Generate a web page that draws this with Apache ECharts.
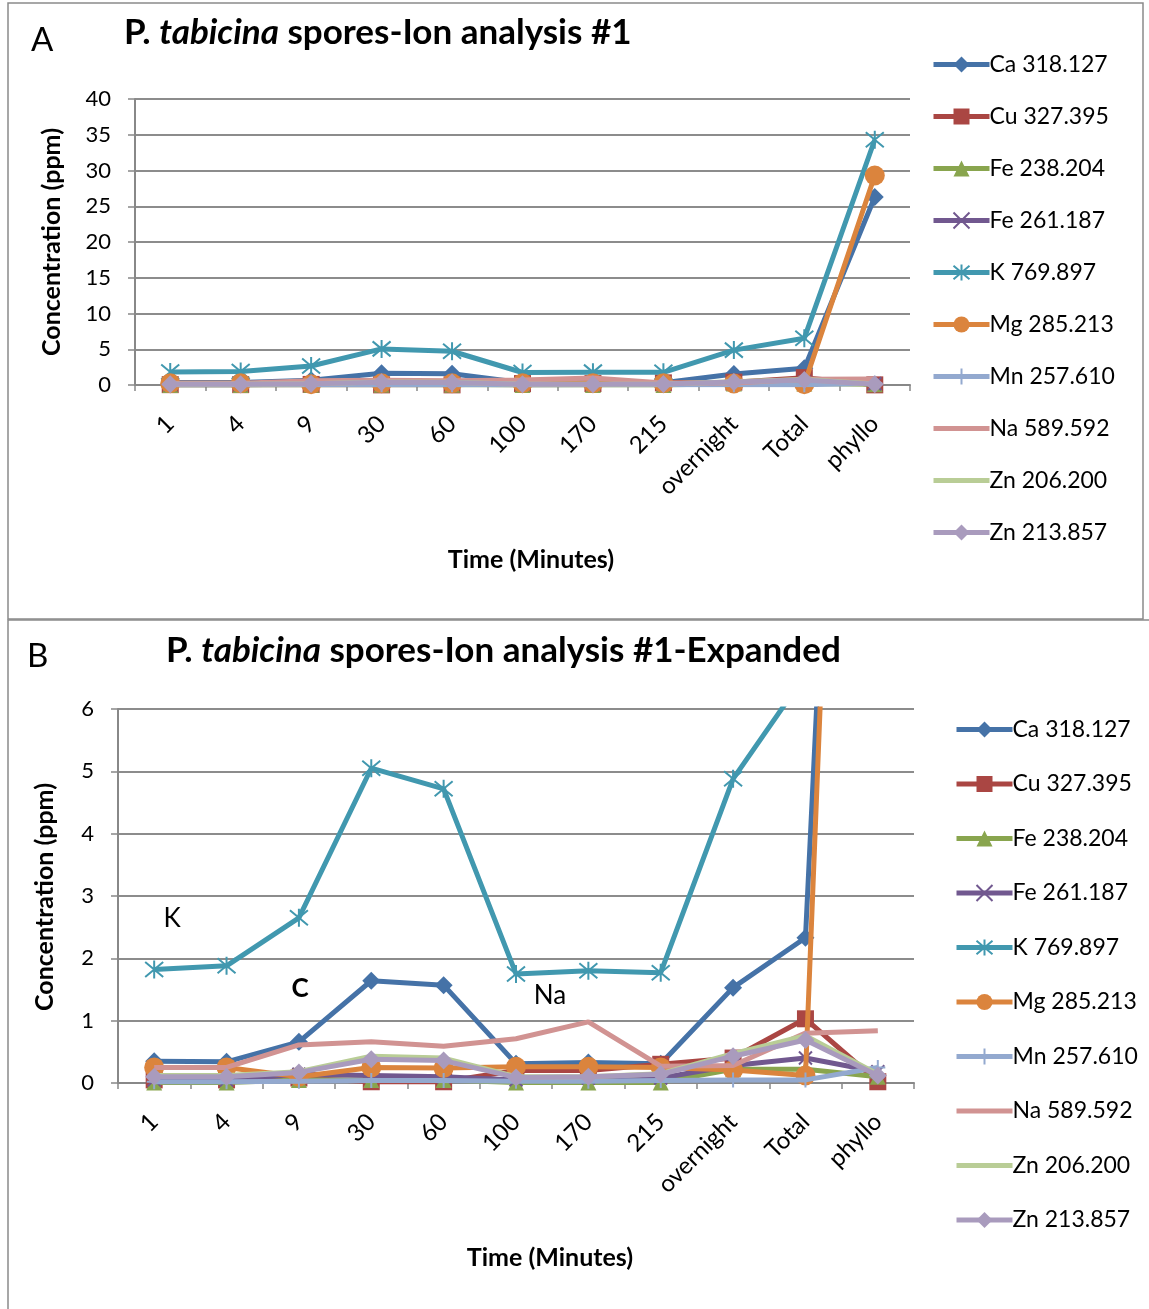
<!DOCTYPE html>
<html>
<head>
<meta charset="utf-8">
<script src="https://cdn.jsdelivr.net/npm/echarts@6/dist/echarts.min.js"></script>
<style>
html,body{margin:0;padding:0;background:#fff;}
#c{width:1149px;height:1309px;}
</style>
</head>
<body>
<div id="c"></div>
<script>
// ---- data ----
var categories = ['1','4','9','30','60','100','170','215','overnight','Total','phyllo'];
var seriesNames = ['Ca 318.127','Cu 327.395','Fe 238.204','Fe 261.187','K 769.897','Mg 285.213','Mn 257.610','Na 589.592','Zn 206.200','Zn 213.857'];
var ca    = [0.35,0.34,0.66,1.64,1.57,0.31,0.33,0.31,1.53,2.33,26.3];
var cu    = [0.05,0.05,0.08,0.02,0.02,0.2,0.2,0.3,0.4,1.03,0.02];
var fe238 = [0.01,0.01,0.05,0.05,0.05,0.01,0.01,0.01,0.22,0.22,0.1];
var fe261 = [0.05,0.05,0.14,0.12,0.1,0.05,0.08,0.08,0.28,0.4,0.18];
var k     = [1.82,1.88,2.65,5.05,4.72,1.75,1.80,1.77,4.88,6.55,34.3];
var mg    = [0.25,0.25,0.1,0.25,0.24,0.26,0.26,0.25,0.21,0.12,29.3];
var mn    = [0.02,0.02,0.03,0.04,0.04,0.03,0.03,0.04,0.05,0.05,0.25];
var na    = [0.25,0.25,0.61,0.66,0.59,0.71,0.98,0.27,0.28,0.8,0.84];
var zn206 = [0.12,0.12,0.18,0.43,0.4,0.1,0.1,0.15,0.47,0.76,0.14];
var zn213 = [0.1,0.1,0.17,0.38,0.36,0.09,0.1,0.14,0.43,0.69,0.12];
var yTicksA = [0,5,10,15,20,25,30,35,40];
var yTicksB = [0,1,2,3,4,5,6];

// ---- styles ----
var FONT = 'Lato, "Open Sans", sans-serif';
var colors = ['#4572A7','#AA4643','#89A54E','#71588F','#4198AF','#DB843D','#93A9CF','#D19392','#B9CD96','#A99BBD'];
var xPath = 'path://M0,0L10,10M10,0L0,10';
var starPath = 'path://M0,0L10,10M10,0L0,10M5,-1L5,11';
var plusPath = 'path://M5,0L5,10M0,5L10,5';
var symbols = ['diamond','rect','triangle',xPath,starPath,'circle',plusPath,'none','none','diamond'];
var sizes = [18,17,16,13,18,20,15,0,0,18];
var allData = [ca,cu,fe238,fe261,k,mg,mn,na,zn206,zn213];

var series = [];
[0,1].forEach(function(g){
  for (var i=0;i<seriesNames.length;i++){
    var isStroke = (i===3||i===4||i===6);
    series.push({
      name: seriesNames[i],
      type: 'line',
      xAxisIndex: g, yAxisIndex: g,
      data: allData[i],
      symbol: symbols[i],
      symbolSize: sizes[i],
      showSymbol: symbols[i] !== 'none',
      clip: true,
      lineStyle: {color: colors[i], width: 5},
      itemStyle: {color: colors[i], borderColor: colors[i], borderWidth: isStroke ? 2 : 0},
      emphasis: {disabled: true},
      animation: false,
      z: 2 + i
    });
  }
});

function xAxisCfg(g){
  return {
    type: 'category', gridIndex: g, data: categories, boundaryGap: true,
    axisLine: {show: true, lineStyle: {color: '#888', width: 2}},
    axisTick: {show: true, alignWithLabel: false, length: 6, lineStyle: {color: '#888', width: 1.5}},
    axisLabel: {rotate: 45, fontSize: 24, color: '#000', fontFamily: FONT, margin: 35, interval: 0},
    splitLine: {show: false}
  };
}
function yAxisCfg(g, max, interval, margin){
  return {
    type: 'value', gridIndex: g, min: 0, max: max, interval: interval,
    axisLine: {show: true, lineStyle: {color: '#888', width: 2}},
    axisTick: {show: true, length: 7, lineStyle: {color: '#888', width: 1.5}},
    axisLabel: {fontSize: 22, color: '#000', fontFamily: FONT, margin: margin},
    splitLine: {show: true, lineStyle: {color: '#8c8c8c', width: 2}}
  };
}
function legendCfg(left, top, gap){
  return {
    orient: 'vertical', left: left, top: top, itemWidth: 56, itemHeight: 20, itemGap: gap,
    data: seriesNames.map(function(n, i){
      var d = {name: n};
      if (symbols[i] === 'none') d.itemStyle = {color: 'rgba(0,0,0,0)', borderWidth: 0};
      return d;
    }),
    lineStyle: {width: 5},
    textStyle: {fontSize: 23, color: '#000', fontFamily: FONT, padding: [0,0,0,-5]},
    selectedMode: false
  };
}
function titleRich(){
  return {
    b: {fontSize: 35, fontWeight: 'bold', fontFamily: FONT, color: '#000'},
    bi: {fontSize: 35, fontWeight: 'bold', fontStyle: 'italic', fontFamily: FONT, color: '#000'}
  };
}

var chart = echarts.init(document.getElementById('c'), null, {renderer: 'canvas'});
chart.setOption({
  backgroundColor: '#fff',
  animation: false,
  grid: [
    {left: 135, top: 99, width: 775, height: 286},
    {left: 118, top: 709, width: 796, height: 374}
  ],
  xAxis: [xAxisCfg(0), xAxisCfg(1)],
  yAxis: [yAxisCfg(0, yTicksA[yTicksA.length-1], 5, 24), yAxisCfg(1, yTicksB[yTicksB.length-1], 1, 24)],
  legend: [legendCfg(926, 48, 29), legendCfg(949, 713, 31.5)],
  series: series,
  graphic: [
    {type: 'rect', shape: {x: 8, y: 3, width: 1135, height: 616}, style: {fill: null, stroke: '#8a8a8a', lineWidth: 1.5}, silent: true},
    {type: 'rect', shape: {x: 8, y: 620, width: 1160, height: 720}, style: {fill: null, stroke: '#8a8a8a', lineWidth: 1.5}, silent: true},
    {type: 'text', left: 31, top: 24, style: {text: 'A', fontSize: 33, fontFamily: FONT, fill: '#000'}},
    {type: 'text', left: 27, top: 640, style: {text: 'B', fontSize: 33, fontFamily: FONT, fill: '#000'}},
    {type: 'text', x: 124, y: 33, style: {text: '{b|P. }{bi|tabicina}{b| spores-Ion analysis #1}', rich: titleRich(), verticalAlign: 'middle'}},
    {type: 'text', x: 166, y: 651, style: {text: '{b|P. }{bi|tabicina}{b| spores-Ion analysis #1-Expanded}', rich: titleRich(), verticalAlign: 'middle'}},
    {type: 'text', x: 52, y: 242, rotation: Math.PI/2, style: {text: 'Concentration (ppm)', fontSize: 25, fontWeight: 'bold', fontFamily: FONT, fill: '#000', align: 'center', verticalAlign: 'middle'}},
    {type: 'text', x: 45, y: 897, rotation: Math.PI/2, style: {text: 'Concentration (ppm)', fontSize: 25, fontWeight: 'bold', fontFamily: FONT, fill: '#000', align: 'center', verticalAlign: 'middle'}},
    {type: 'text', x: 531, y: 560, style: {text: 'Time (Minutes)', fontSize: 25, fontWeight: 'bold', fontFamily: FONT, fill: '#000', align: 'center', verticalAlign: 'middle'}},
    {type: 'text', x: 550, y: 1258, style: {text: 'Time (Minutes)', fontSize: 25, fontWeight: 'bold', fontFamily: FONT, fill: '#000', align: 'center', verticalAlign: 'middle'}},
    {type: 'text', x: 172, y: 919, style: {text: 'K', fontSize: 26, fontFamily: FONT, fill: '#000', align: 'center', verticalAlign: 'middle'}},
    {type: 'text', x: 300, y: 989, style: {text: 'C', fontSize: 26, fontWeight: 'bold', fontFamily: FONT, fill: '#000', align: 'center', verticalAlign: 'middle'}},
    {type: 'text', x: 550, y: 996, style: {text: 'Na', fontSize: 26, fontFamily: FONT, fill: '#000', align: 'center', verticalAlign: 'middle'}}
  ]
});
</script>
</body>
</html>
